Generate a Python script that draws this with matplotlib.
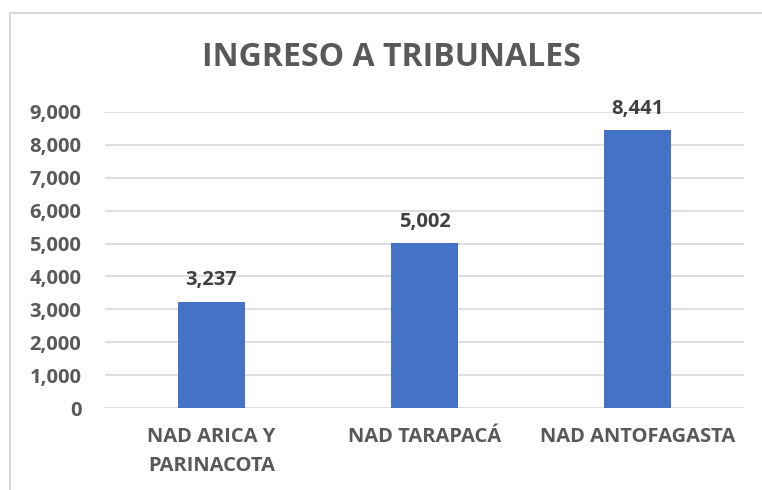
import matplotlib.pyplot as plt
from matplotlib.patches import Rectangle
from matplotlib.ticker import FuncFormatter

##### Data #####
categories = ["NAD ARICA Y\nPARINACOTA", "NAD TARAPACÁ", "NAD ANTOFAGASTA"]
ingresos = [3237, 5002, 8441]
title = "INGRESO A TRIBUNALES"

text_color = "#595959"
bar_color = "#4472C4"
grid_color = "#D9D9D9"
plt.rcParams['font.family'] = ['Open Sans', 'DejaVu Sans']

W, H = 762, 490
fig = plt.figure(figsize=(W / 100, H / 100), dpi=100)

# chart area border (runs off right/bottom edges like the original)
fig.patches.append(Rectangle((10 / W, -0.1), 1.1, (H - 13) / H + 0.1, transform=fig.transFigure,
                             fill=False, edgecolor=grid_color, linewidth=1.5))

# axes placed in pixel coords
left, right, top, bottom = 105, 744, 112, 408
ax = fig.add_axes([left / W, (H - bottom) / H, (right - left) / W, (bottom - top) / H])

x = range(len(categories))
bars = ax.bar(x, ingresos, width=0.31, color=bar_color, zorder=3)

ax.set_xlim(-0.5, len(categories) - 0.5)
ax.set_ylim(0, 9000)
ax.set_yticks(range(0, 9001, 1000))
ax.yaxis.set_major_formatter(FuncFormatter(lambda v, p: "{:,.0f}".format(v)))
ax.grid(axis='y', color=grid_color, linewidth=1.2, zorder=0)
for s in ax.spines.values():
    s.set_visible(False)
ax.tick_params(axis='both', length=0, labelcolor=text_color, labelsize=14.5)
ax.tick_params(axis='y', pad=17)
ax.tick_params(axis='x', pad=14)
ax.set_xticks(list(x))
ax.set_xticklabels(categories, linespacing=1.55)
for lbl in ax.get_xticklabels() + ax.get_yticklabels():
    lbl.set_fontweight('bold')

for xi, v in zip(x, ingresos):
    ax.annotate("{:,}".format(v), (xi, v), xytext=(0, 8), textcoords='offset points',
                ha='center', va='bottom', fontsize=14.5, fontweight='bold', color="#404040")

fig.text(391 / W, (H - 58) / H, title, ha='center', va='center',
         fontsize=23, fontweight='bold', color=text_color)

fig.savefig("out.png", dpi=100)
